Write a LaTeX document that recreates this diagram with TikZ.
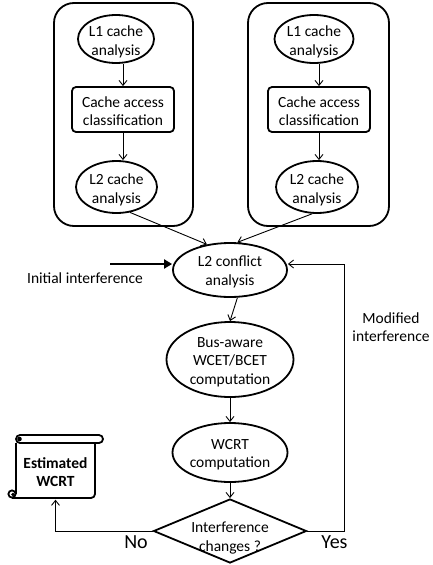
\documentclass[tikz,border=0pt]{standalone}
\usepackage{fontspec}
\setmainfont{Carlito}
\usetikzlibrary{shapes.geometric,arrows.meta}
\newcommand\nf{\fontsize{15.5}{18.5}\selectfont}
\newcommand\zb[2][-7pt]{\smash{\makebox[0pt]{\raisebox{#1}{\begin{tabular}{@{}c@{}}#2\end{tabular}}}}}
\tikzset{
  grp/.style={draw, line width=1.8pt, rounded corners=20pt, inner sep=0pt},
  ell/.style={draw, ellipse, line width=1.8pt, inner sep=0pt, font=\nf},
  rbox/.style={draw, rectangle, line width=1.8pt, rounded corners=4pt, inner sep=0pt, font=\nf},
  dmd/.style={draw, diamond, line width=1.8pt, inner sep=0pt, font=\nf},
  arr/.style={-{Straight Barb[length=5pt,width=8pt]}, line width=0.9pt},
  thickarr/.style={-{Triangle[length=8pt,width=9pt]}, line width=2.6pt},
  lbl/.style={font=\nf, inner sep=0pt},
  big/.style={font=\fontsize{20}{24}\selectfont, inner sep=0pt},
}
\begin{document}
\begin{tikzpicture}[x=1pt,y=-1pt]
\useasboundingbox (0,0) rectangle (432,565);

% group boxes
\node[grp, minimum width=139pt, minimum height=223pt] (gL) at (123.5,114.5) {};
\node[grp, minimum width=141pt, minimum height=223pt] (gR) at (318.5,114.5) {};

% left column
\node[ell, minimum width=76pt, minimum height=48pt] (l1a) at (116,39) {\zb{L1 cache\\analysis}};
\node[rbox, minimum width=102pt, minimum height=45pt] (caa) at (123,109.5) {\zb{Cache access\\classification}};
\node[ell, minimum width=81pt, minimum height=52pt] (l2a) at (116.5,187) {\zb{L2 cache\\analysis}};
% right column
\node[ell, minimum width=79pt, minimum height=48pt] (l1b) at (314,39) {\zb{L1 cache\\analysis}};
\node[rbox, minimum width=102pt, minimum height=45pt] (cab) at (319,109.5) {\zb{Cache access\\classification}};
\node[ell, minimum width=82pt, minimum height=52pt] (l2b) at (317,187) {\zb{L2 cache\\analysis}};

% main flow
\node[ell, minimum width=114pt, minimum height=54pt] (l2c) at (230,270) {\zb[-6pt]{L2 conflict\\analysis}};
\node[ell, minimum width=127pt, minimum height=75pt] (bus) at (230,359.5) {\zb[-6pt]{Bus-aware\\WCET/BCET\\computation}};
\node[ell, minimum width=115pt, minimum height=59pt] (wcrt) at (230,452.5) {\zb[-6pt]{WCRT\\computation}};
\node[dmd, minimum width=153pt, minimum height=64pt] (dia) at (230,531) {\zb[-11pt]{Interference\\changes ?}};

% scroll
\node[lbl, font=\nf\bfseries, align=center, minimum width=79pt, minimum height=55pt] (scroll) at (55.5,472) {Estimated\\WCRT};
\draw[line width=1.8pt, rounded corners=4pt] (16,435) rectangle (103,443);
\fill (19.5,439) circle (2.3pt);
\draw[line width=1.8pt] (16,443) -- (16,494);
\draw[line width=1.8pt] (95,443) -- (95,494) arc (0:90:4) -- (12,498);
\draw[line width=1.8pt] (12,494) circle (3.6pt);
\fill (13,494.5) circle (1.8pt);

% text labels
\node[lbl, anchor=base] (iitext) at (85,283) {Initial interference};
\node[lbl, align=center] (mod) at (391,327) {Modified\\interference};
\node[big, anchor=base] (no) at (136,548) {No};
\node[big, anchor=base] (yes) at (334.5,548) {Yes};

% connectors
\draw[arr] (l1a.south -| caa.north) -- (caa.north);
\draw[arr] (caa.south) -- (caa.south |- l2a.north);
\draw[arr] (l1b.south -| cab.north) -- (cab.north);
\draw[arr] (cab.south) -- (cab.south |- l2b.north);
\draw[arr] (l2a.-62) -- (l2c.132);
\draw[arr] (l2b.-100) -- (l2c.75);
\coordinate (ii) at (110,264);
\draw[thickarr] (ii) -- (l2c.west |- ii);
\draw[arr] (l2c.-75) -- (bus.north);
\draw[arr] (bus.south) -- (wcrt.north);
\draw[arr] (wcrt.south) -- (dia.north);
\coordinate (fb) at (344,264);
\draw[arr] (dia.east) -| (fb) -- (l2c.east |- fb);
\draw[arr] (dia.west) -| (scroll.south);
\end{tikzpicture}
\end{document}
